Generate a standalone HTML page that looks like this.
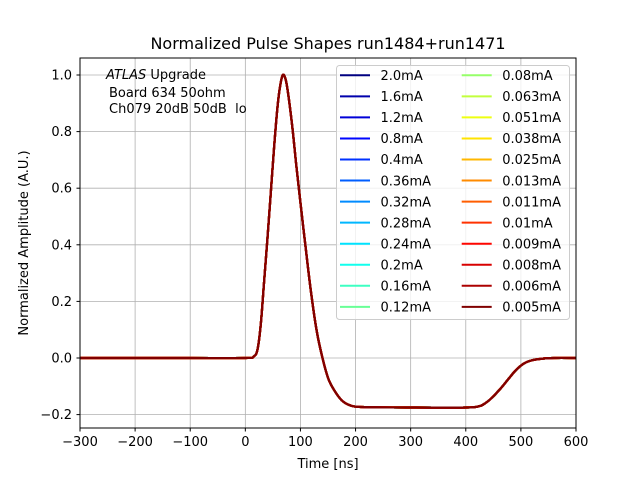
<!DOCTYPE html>
<html><head><meta charset="utf-8"><style>
body{margin:0;background:#fff}
svg{display:block;font-family:"DejaVu Sans","Liberation Sans",sans-serif}
</style></head><body>
<svg id="chart" width="640" height="480" viewBox="0 0 640 480">
<rect width="640" height="480" fill="#fff"/>
<text x="328" y="49" font-size="16" text-anchor="middle">Normalized Pulse Shapes run1484+run1471</text>
<g id="grid"></g>
<g id="series"></g>
<rect x="80" y="58" width="496" height="370" fill="none" stroke="#000" stroke-width="1"/>
<g id="ticks"></g>
<text x="328" y="468" font-size="13" text-anchor="middle">Time [ns]</text>
<text transform="translate(28,243) rotate(-90)" font-size="13" text-anchor="middle">Normalized Amplitude (A.U.)</text>
<g font-size="13" style="white-space:pre">
<text x="106" y="79"><tspan font-style="italic">ATLAS</tspan> Upgrade</text>
<text x="109" y="97">Board 634 50ohm</text>
<text x="109" y="113" xml:space="preserve">Ch079 20dB 50dB  lo</text>
</g>
<g id="legend">
<rect x="336.5" y="65.5" width="233" height="254" rx="3" fill="#fff" fill-opacity="0.8" stroke="#ccc"/>
</g>
</svg>
<script>
const labels=["2.0mA","1.6mA","1.2mA","0.8mA","0.4mA","0.36mA","0.32mA","0.28mA","0.24mA","0.2mA","0.16mA","0.12mA","0.08mA","0.063mA","0.051mA","0.038mA","0.025mA","0.013mA","0.011mA","0.01mA","0.009mA","0.008mA","0.006mA","0.005mA"];
const times=[-300,-200,-100,0,15,22,28,34,40,46,52,58,63,68,73,78,85,92,100,110,120,130,140,150,160,175,190,210,300,400,425,435,445,460,475,490,505,520,540,560,600];
const amps=[0,0,0,0,0.005,0.03,0.12,0.27,0.42,0.58,0.74,0.88,0.96,1.0,0.985,0.93,0.82,0.69,0.55,0.38,0.22,0.09,0.0,-0.07,-0.11,-0.15,-0.167,-0.173,-0.175,-0.175,-0.17,-0.16,-0.145,-0.115,-0.08,-0.045,-0.02,-0.008,-0.002,0,0];
const xTicks=[-300,-200,-100,0,100,200,300,400,500,600];
const yTicks=[-0.2,0.0,0.2,0.4,0.6,0.8,1.0];
const X=t=>80+(t+300)/900*496;
const Y=v=>358-v*283;
const NS="http://www.w3.org/2000/svg";
function mk(tag,attrs,parent){const e=document.createElementNS(NS,tag);for(const k in attrs)e.setAttribute(k,attrs[k]);parent.appendChild(e);return e;}
function jet(f){const r=Math.min(Math.max(Math.min(4*f-1.5,-4*f+4.5),0),1),g=Math.min(Math.max(Math.min(4*f-0.5,-4*f+3.5),0),1),b=Math.min(Math.max(Math.min(4*f+0.5,-4*f+2.5),0),1);return `rgb(${Math.round(r*255)},${Math.round(g*255)},${Math.round(b*255)})`;}
function smooth(pts){let d='M'+pts[0][0].toFixed(1)+','+pts[0][1].toFixed(1);
for(let i=0;i<pts.length-1;i++){const p0=pts[Math.max(i-1,0)],p1=pts[i],p2=pts[i+1],p3=pts[Math.min(i+2,pts.length-1)];
const c1=[p1[0]+(p2[0]-p0[0])/6,p1[1]+(p2[1]-p0[1])/6],c2=[p2[0]-(p3[0]-p1[0])/6,p2[1]-(p3[1]-p1[1])/6];
d+='C'+c1[0].toFixed(1)+','+c1[1].toFixed(1)+' '+c2[0].toFixed(1)+','+c2[1].toFixed(1)+' '+p2[0].toFixed(1)+','+p2[1].toFixed(1);}
return d;}
const grid=document.getElementById('grid'),ticks=document.getElementById('ticks'),ser=document.getElementById('series'),leg=document.getElementById('legend');
xTicks.forEach(t=>{const x=X(t);
const g=mk('line',{x1:x,x2:x,y1:58,y2:428,stroke:'#b0b0b0','stroke-width':0.8},grid);

const tk=mk('line',{x1:x,x2:x,y1:428,y2:431.5,stroke:'#000'},ticks);

const tx=mk('text',{x:x,y:446,'font-size':13,'text-anchor':'middle'},ticks);tx.textContent=(t<0?'\u2212'+(-t):t);
});
yTicks.forEach(v=>{const y=Y(v);
const g=mk('line',{x1:80,x2:576,y1:y,y2:y,stroke:'#b0b0b0','stroke-width':0.8},grid);

const tk=mk('line',{x1:76.5,x2:80,y1:y,y2:y,stroke:'#000'},ticks);

const tx=mk('text',{x:72,y:y+4.5,'font-size':13,'text-anchor':'end'},ticks);tx.textContent=(v<0?'\u2212':'')+Math.abs(v).toFixed(1);
});
labels.forEach((lab,i)=>{const c=jet(i/(labels.length-1));
const d=smooth(times.map((t,k)=>[X(t),Y(amps[k])]));
const p=mk('path',{d:d,fill:'none',stroke:c,'stroke-width':2.2,'stroke-linejoin':'round'},ser);

const col=i<12?0:1,row=i%12,lx=col?461.7:340,y=75.3+row*21.05;
const l=mk('line',{x1:lx,x2:lx+30,y1:y,y2:y,stroke:c,'stroke-width':2},leg);

const t=mk('text',{x:lx+40.5,y:y+4.7,'font-size':13},leg);t.textContent=lab;
});
</script>
</body></html>
